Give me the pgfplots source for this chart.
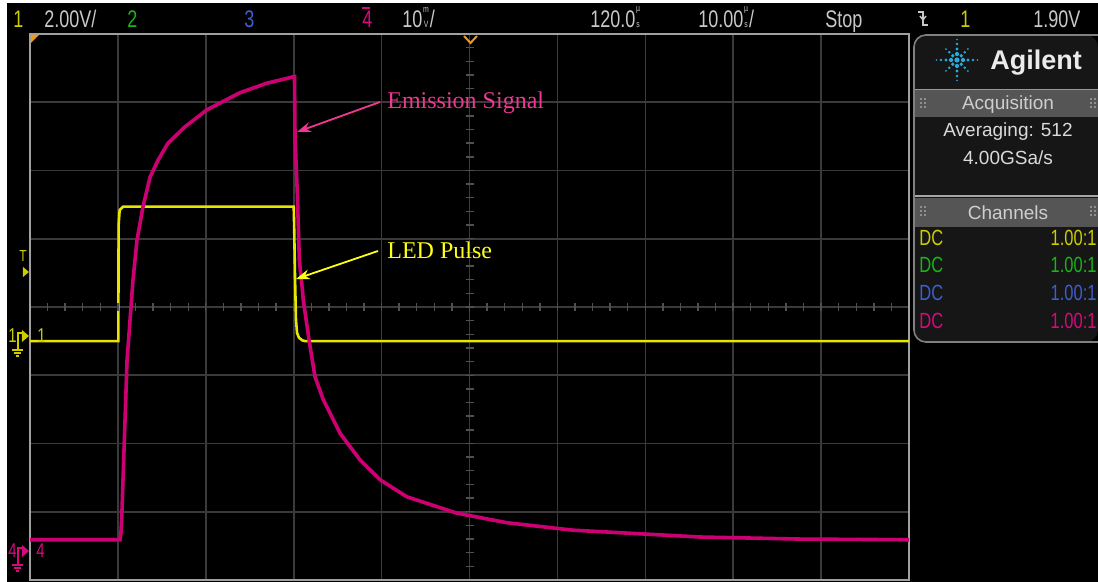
\documentclass[border=0pt]{standalone}
\usepackage{pgfplots}
\pgfplotsset{compat=1.18}
\usetikzlibrary{arrows.meta,calc}
\usepackage{fontspec}
\setmainfont{Liberation Serif}
\newfontfamily\scopefont{Liberation Sans}
\newfontfamily\barfont[FakeStretch=0.75]{Liberation Sans}
\newfontfamily\dcfont[FakeStretch=0.75]{Liberation Sans}
\newcommand\su[2]{{\fontsize{4.6bp}{4.6bp}\selectfont\kern0.4bp\shortstack[c]{#1\\[1.3bp]#2}\kern0.4bp}}
\definecolor{ytrace}{RGB}{230,230,0}
\definecolor{ptrace}{RGB}{205,0,115}
\definecolor{pann}{RGB}{240,55,145}
\definecolor{yann}{RGB}{255,255,20}
\definecolor{gridc}{RGB}{58,58,58}
\definecolor{tickc}{RGB}{80,80,80}
\definecolor{borderc}{RGB}{160,160,160}
\definecolor{txtc}{RGB}{200,200,200}
\definecolor{ych}{RGB}{205,205,0}
\definecolor{gch}{RGB}{25,180,25}
\definecolor{bch}{RGB}{60,95,205}
\definecolor{pch}{RGB}{215,10,125}
\definecolor{orng}{RGB}{240,150,30}
\definecolor{panelbg}{RGB}{22,22,22}
\definecolor{bandc}{RGB}{85,85,85}
\definecolor{agblue}{RGB}{40,170,220}
\begin{document}
\begin{tikzpicture}
\path[use as bounding box] (0bp,0bp) rectangle (549bp,-291bp);
\fill[white] (0bp,0bp) rectangle (549bp,-291bp);
\fill[black] (3.5bp,-1.5bp) rectangle (549bp,-291bp);
\begin{axis}[at={(15bp,-290bp)}, anchor=south west, scale only axis,
  width=439.5bp, height=273bp,
  xmin=70, xmax=170, ymin=-4, ymax=4,
  xtick={70,80,...,170}, ytick={-4,-3,...,4},
  xticklabels={}, yticklabels={}, major tick length=0pt, tick style={draw=none},
  grid=major, major grid style={gridc, line width=0.8bp},
  axis line style={borderc, line width=1bp}]
% Channel 1: LED pulse (divisions)
\addplot[ytrace, line width=1.3bp] coordinates {
(70,-0.5) (80.05,-0.5) (80.08,1.2) (80.2,1.42) (80.58,1.47) (100.0,1.47)
(100.05,1.2) (100.15,0.44) (100.26,-0.19) (100.38,-0.38) (100.6,-0.45)
(101.0,-0.49) (101.3,-0.5) (170,-0.5)};
% Channel 4: emission signal (divisions)
\addplot[ptrace, line width=1.8bp] coordinates {
(70,-3.41) (80.24,-3.41) (80.35,-3.3) (80.45,-3.05) (80.58,-2.53) (80.81,-1.66)
(81.04,-0.78) (81.38,-0.19) (81.72,0.40) (82.17,0.98) (82.86,1.47) (83.65,1.90)
(84.56,2.15) (85.70,2.40) (87.63,2.64) (90.14,2.89) (93.89,3.14) (96.96,3.28)
(99.58,3.36) (100.03,3.38) (100.09,3.38) (100.15,2.49) (100.41,1.67) (100.64,0.69)
(101.02,0.21) (101.09,0.10) (101.78,-0.51) (102.42,-1.02) (103.37,-1.36)
(105.27,-1.85) (107.54,-2.24) (109.82,-2.53) (112.86,-2.78) (118.54,-3.02)
(124.23,-3.16) (131.77,-3.27) (146.22,-3.37) (157.60,-3.40) (170,-3.41)};
\end{axis}
\begin{scope}[x=0.5bp,y=-0.5bp,
  sf/.style={inner sep=0pt, anchor=base west, font=\barfont\fontsize{12bp}{12bp}\selectfont},
  mk/.style={inner sep=0pt, anchor=base west, font=\barfont\fontsize{10bp}{10bp}\selectfont},
  dc/.style={inner sep=0pt, font=\dcfont\fontsize{11bp}{12bp}\selectfont}]
% centre crosshair ticks
\foreach \k in {1,...,49}{\draw[tickc, line width=0.7bp] ({30+\k*17.58},303) -- ({30+\k*17.58},311);}
\foreach \k in {1,...,39}{\draw[tickc, line width=0.7bp] (466,{34+\k*13.65}) -- (474,{34+\k*13.65});}
% orange markers
\fill[orng] (31,35) -- (39,35) -- (31,43) -- cycle;
\draw[orng, line width=1bp] (464,36) -- (470.5,43) -- (477,36);
% top bar
\node[sf, ych] at (13,27) {1};
\node[sf, txtc] at (44,27) {2.00V/};
\node[sf, gch] at (127,27) {2};
\node[sf, bch] at (244,27) {3};
\node[sf, pch] at (362,27) {4};
\draw[pch, line width=0.6bp] (362,8) -- (370,8);
\node[sf, txtc] at (402,27) {10\su{m}{V}/};
\node[sf, txtc] at (590,27) {120.0\su{µ}{s}};
\node[sf, txtc] at (698,27) {10.00\su{µ}{s}/};
\node[sf, txtc] at (825,27) {Stop};
\draw[txtc, line width=0.7bp] (918,12) -- (923,12) -- (923,25) -- (928,25);
\draw[txtc, line width=0.7bp] (920,16) -- (923,20) -- (926,16);
\node[sf, ych] at (960,27) {1};
\node[sf, txtc] at (1033,27) {1.90V};
% left markers
\node[inner sep=0pt, anchor=base, ych, font=\barfont\fontsize{8bp}{8bp}\selectfont] at (23,262) {T};
\fill[ych] (23,267) -- (29,272) -- (23,277) -- cycle;
\node[mk, ych] at (8,343) {1};
\draw[ych, line width=0.8bp] (18,349) -- (18,333) -- (23,333);
\fill[ych] (22,330) -- (29,336) -- (22,342) -- cycle;
\draw[ych, line width=0.8bp] (12,350) -- (23,350) (14,353) -- (21,353) (16,356) -- (19,356);
\node[mk, ych] at (37,343) {1};
\node[mk, pch] at (8,558) {4};
\draw[pch, line width=0.8bp] (18,564) -- (18,548) -- (23,548);
\fill[pch] (22,545) -- (29,551) -- (22,557) -- cycle;
\draw[pch, line width=0.8bp] (12,565) -- (23,565) (14,568) -- (21,568) (16,571) -- (19,571);
\node[mk, pch] at (36,558) {4};
% annotations
\draw[pann, line width=0.9bp, -{Stealth[length=7bp,width=5bp]}] (380,102) -- (297,132);
\node[inner sep=0pt, anchor=base west, pann, font=\fontsize{12bp}{14bp}\selectfont] at (387,109) {Emission Signal};
\draw[yann, line width=0.9bp, -{Stealth[length=7bp,width=5bp]}] (378,251) -- (296,279);
\node[inner sep=0pt, anchor=base west, yann, font=\fontsize{12bp}{14bp}\selectfont] at (387,259) {LED Pulse};
% right panel
\fill[panelbg, rounded corners=6] (914,35) -- (1098,35) -- (1098,342) -- (914,342) -- cycle;
\fill[bandc] (915,90) rectangle (1098,117);
\draw[gray!80, line width=0.5bp] (915,90) -- (1098,90);
\draw[gray!70, line width=0.6bp] (915,196) -- (1098,196);
\fill[bandc] (915,198) rectangle (1098,227);
\draw[gray, line width=0.8bp, rounded corners=6] (1098,35) -- (914,35) -- (914,342) -- (1098,342);
\foreach \yy in {90,198}{
  \foreach \dx in {921,925,1091,1095}{
    \foreach \dy in {9,13,17}{\fill[gray!40] (\dx,\yy+\dy) circle (0.9);}}}
\node[inner sep=0pt, anchor=base, txtc!90!white, font=\scopefont\fontsize{9.5bp}{10bp}\selectfont] at (1008,110) {Acquisition};
\node[inner sep=0pt, anchor=base, txtc!90!white, font=\scopefont\fontsize{9.5bp}{10bp}\selectfont] at (1008,220) {Channels};
\node[inner sep=0pt, anchor=base, white!85!black, font=\scopefont\fontsize{9.5bp}{10bp}\selectfont] at (1008,137) {Averaging: 512};
\node[inner sep=0pt, anchor=base, white!85!black, font=\scopefont\fontsize{9.5bp}{10bp}\selectfont] at (1008,165) {4.00GSa/s};
\node[inner sep=0pt, anchor=base west, white!92!black, font=\scopefont\bfseries\fontsize{13.5bp}{14bp}\selectfont] at (990,69) {Agilent};
% Agilent logo
\fill[agblue] (957,60) circle (2.6);
\foreach \a in {0,90,180,270}{
  \fill[agblue] ($(957,60)+(\a:6)$) circle (2.1);
  \fill[agblue] ($(957,60)+(\a:11)$) circle (1.7);
  \fill[agblue] ($(957,60)+(\a:16)$) circle (1.3);
  \fill[agblue] ($(957,60)+(\a:20.5)$) circle (0.9);}
\foreach \a in {45,135,225,315}{
  \fill[agblue] ($(957,60)+(\a:6)$) circle (1.8);
  \fill[agblue] ($(957,60)+(\a:11)$) circle (1.4);
  \fill[agblue] ($(957,60)+(\a:15.5)$) circle (1.0);}
% channel rows
\node[dc, anchor=base west, ych] at (919,246) {DC};
\node[dc, anchor=base east, ych] at (1097,246) {1.00:1};
\node[dc, anchor=base west, gch] at (919,273) {DC};
\node[dc, anchor=base east, gch] at (1097,273) {1.00:1};
\node[dc, anchor=base west, bch] at (919,301) {DC};
\node[dc, anchor=base east, bch] at (1097,301) {1.00:1};
\node[dc, anchor=base west, pch] at (919,329) {DC};
\node[dc, anchor=base east, pch] at (1097,329) {1.00:1};
\end{scope}
\end{tikzpicture}
\end{document}
